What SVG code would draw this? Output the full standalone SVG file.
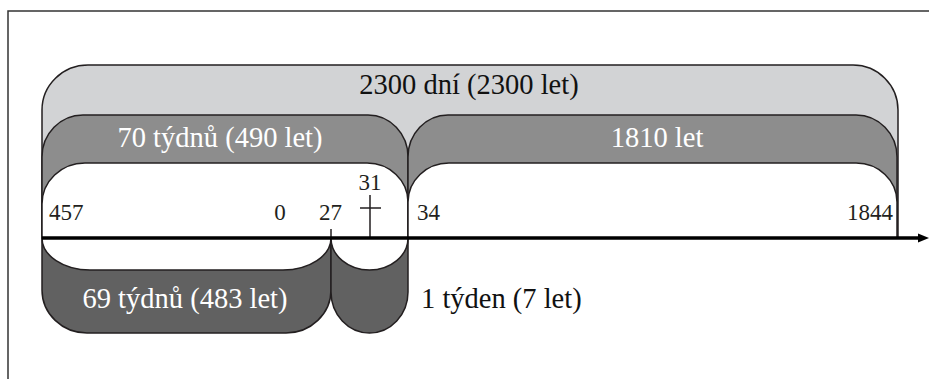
<svg xmlns="http://www.w3.org/2000/svg" width="929" height="379" viewBox="0 0 929 379">
<style>
.sh{stroke:#231f20;stroke-width:1.5;stroke-linejoin:round}
.lg{fill:#d2d3d5}
.mg{fill:#8d8d8d}
.dg{fill:#616161}
.wh{fill:#ffffff}
.t{font-family:"Liberation Serif","Times New Roman",serif}
.big{font-size:28.5px}
.num{font-size:23px;fill:#231f20}
.w{fill:#ffffff}
.b{fill:#111111}
.ln{stroke:#231f20;stroke-width:1.5;fill:none}
</style>
<rect x="0" y="0" width="929" height="379" fill="#ffffff"/>
<path d="M8,379 L8,11 L929,11" fill="none" stroke="#333333" stroke-width="1.5"/>

<g id="period-2300">
<path class="sh lg" d="M42,238 L42,110 A46,45 0 0 1 88,65 L853,65 A45,45 0 0 1 898,110 L898,238 Z"/>
<text class="t big b" x="469" y="94" text-anchor="middle">2300 dní (2300 let)</text>
</g>

<g id="period-70-weeks">
<path class="sh mg" d="M42,238 L42,157 A41,42 0 0 1 83,115 L368,115 A40,42 0 0 1 408,157 L408,238 Z"/>
<path class="sh wh" d="M42,238 L42,204 A43,41 0 0 1 85,163 L367,163 A41,39 0 0 1 408,202 L408,238 Z"/>
<text class="t big w" x="220" y="147" text-anchor="middle">70 týdnů (490 let)</text>
</g>

<g id="period-1810">
<path class="sh mg" d="M408,238 L408,157 A40,42 0 0 1 448,115 L856,115 A41,42 0 0 1 897,157 L897,238 Z"/>
<path class="sh wh" d="M408,238 L408,202 A41,39 0 0 1 449,163 L856,163 A41,39 0 0 1 897,202 L897,238 Z"/>
<text class="t big w" x="657" y="147" text-anchor="middle">1810 let</text>
</g>

<g id="period-69-weeks">
<path class="sh dg" d="M42,238 L42,290 A45,43 0 0 0 87,333 L286,333 A45,43 0 0 0 331,290 L331,238 Z"/>
<path class="sh wh" d="M42,238 A48,32 0 0 0 90,270 L283,270 A48,32 0 0 0 331,238 Z"/>
<text class="t big w" x="185" y="308" text-anchor="middle">69 týdnů (483 let)</text>
</g>

<g id="period-1-week">
<path class="sh dg" d="M331,238 L331,292 A38.5,41 0 0 0 408,292 L408,238 Z"/>
<path class="sh wh" d="M331,238 A38.5,32 0 0 0 408,238 Z"/>
<text class="t big b" x="421" y="308">1 týden (7 let)</text>
</g>

<g id="labels">
<text class="t num" x="49" y="220">457</text>
<text class="t num" x="280" y="220" text-anchor="middle">0</text>
<text class="t num" x="319" y="220">27</text>
<text class="t num" x="370" y="190" text-anchor="middle">31</text>
<text class="t num" x="417" y="220">34</text>
<text class="t num" x="893" y="220" text-anchor="end">1844</text>
</g>

<g id="cross">
<path class="ln" d="M370,195 L370,238 M360,208 L381,208"/>
</g>

<g id="connectors">
<path class="ln" d="M331,229 L331,238"/>
<line x1="42" y1="238" x2="921" y2="238" stroke="#000000" stroke-width="3.5"/>
<path d="M929,238 L918,233.5 L918,242.5 Z" fill="#000000"/>
</g>
</svg>
